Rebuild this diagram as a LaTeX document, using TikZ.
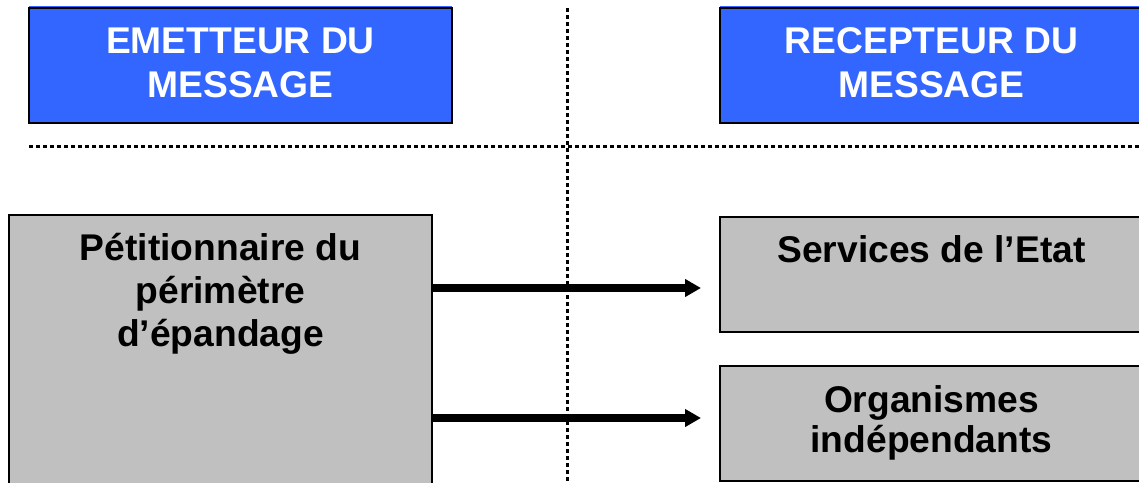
\documentclass[tikz,border=0pt]{standalone}
\usepackage{fontspec}
\setmainfont{Liberation Sans}
\usetikzlibrary{arrows.meta}
\definecolor{hdrblue}{RGB}{51,102,255}
\definecolor{boxgray}{RGB}{192,192,192}
\begin{document}
\begin{tikzpicture}[x=1pt,y=-1pt,
  box/.style={draw=black, line width=2pt, outer sep=0pt, inner sep=0pt, minimum width=423pt, anchor=north west},
  hdr/.style={box, fill=hdrblue, minimum height=115pt},
  gbox/.style={box, fill=boxgray},
  lbl/.style={anchor=north, inner sep=0pt, align=center, font=\fontsize{37.2}{44.3}\selectfont\bfseries},
  sepline/.style={line width=3pt, dash pattern=on 4pt off 3pt},
  flow/.style={line width=8pt, -{Triangle[length=16pt,width=17pt]}, shorten >=19pt}
]
\useasboundingbox (0,0) rectangle (1139,482);
\clip (0,0) rectangle (1139,482);

% header boxes
\node[hdr] (emit) at (29,8) {};
\node[hdr] (recv) at (720,8) {};
\fill[hdrblue] (emit.north west) ++(0,-2.5) rectangle ([yshift=1pt]emit.north east);
\fill[hdrblue] (recv.north west) ++(0,-2.5) rectangle ([yshift=1pt]recv.north east);
\node[lbl, text=white] (emitT) at ([yshift=-19.5pt]emit.north) {EMETTEUR DU\\MESSAGE};
\node[lbl, text=white] (recvT) at ([yshift=-19.5pt]recv.north) {RECEPTEUR DU\\MESSAGE};

% grey boxes
\node[gbox, minimum height=385pt] (pet) at (9,215) {};
\node[gbox, minimum height=115pt] (serv) at (720,217) {};
\node[gbox, minimum height=115pt] (org) at (720,366) {};
\node[lbl, font=\fontsize{37.2}{42.8}\selectfont\bfseries] (petT) at ([yshift=-18pt]pet.north) {Pétitionnaire du\\périmètre\\d’épandage};
\node[lbl] (servT) at ([yshift=-18.5pt]serv.north) {Services de l’Etat};
\node[lbl, font=\fontsize{37.2}{40.4}\selectfont\bfseries] (orgT) at ([yshift=-19pt]org.north) {Organismes\\indépendants};

% separators
\coordinate (hs) at (29,146);
\coordinate (he) at (1139,146);
\coordinate (vs) at (567,8);
\coordinate (ve) at (567,482);
\draw[sepline] (hs) -- (he);
\draw[sepline] (vs) -- (ve);

% arrows
\coordinate (ya) at (0,288);
\coordinate (yb) at (0,418);
\draw[flow] (pet.east |- ya) -- (serv.west |- ya);
\draw[flow] (pet.east |- yb) -- (org.west |- yb);
\end{tikzpicture}
\end{document}
